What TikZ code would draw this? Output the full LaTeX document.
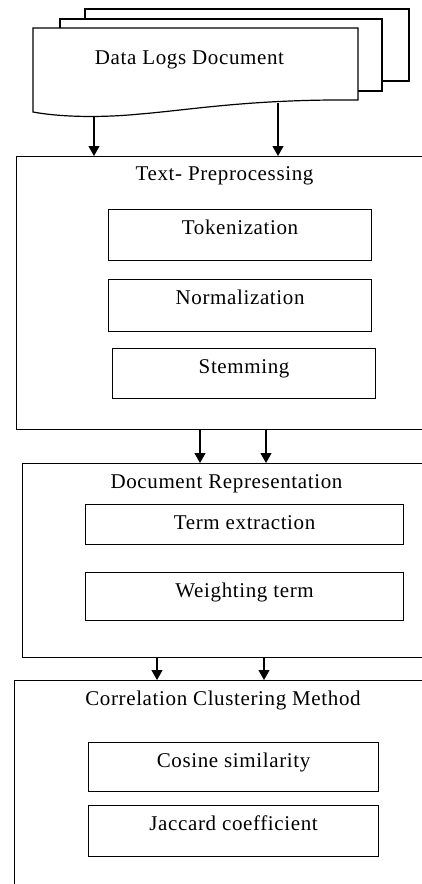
\documentclass[tikz,border=0pt]{standalone}
\usepackage{fontspec}
\setmainfont{Liberation Serif}[LetterSpace=3]
\usepackage{tikz}
\usetikzlibrary{arrows.meta, positioning}

\begin{document}
\begin{tikzpicture}[x=1pt, y=-1pt,
  every node/.style={font=\fontsize{21}{25}\selectfont},
  page/.style={draw, line width=1.2pt, fill=white},
  stage/.style={draw, line width=1.2pt, anchor=north west, inner sep=0pt},
  stepbox/.style={draw, line width=1.2pt, anchor=north west, inner sep=0pt, text height=25pt, text depth=#1},
  heading/.style={anchor=base},
  flow/.style={line width=1.2pt, -{Triangle[width=11pt,length=10pt]}}]
    \clip (0,0) rectangle (422,884);

    % stack of log documents
    \draw[page] (85,9) rectangle (409,81);
    \draw[page] (60,19) rectangle (382,91);
    \draw[page] (33,28) -- (358,28) -- (358,100) .. controls (250,99) and (190,110) .. (140,114) .. controls (100,118) and (60,117) .. (33,112) -- cycle;
    \node[heading] (doc) at (189.5,64) {Data Logs Document};
    \coordinate (docA) at (94,117);
    \coordinate (docB) at (278,103);

    % stages
    \node[stage, minimum width=440pt, minimum height=273pt] (prep) at (16,156) {};
    \node[stage, minimum width=440pt, minimum height=194pt] (rep) at (22,463) {};
    \node[stage, minimum width=440pt, minimum height=240pt] (clus) at (14,680) {};

    \node[heading] (preptitle) at (224.5,180.7) {Text- Preprocessing};
    \node[heading] (reptitle) at (226.5,488) {Document Representation};
    \node[heading] (clustitle) at (223,705) {Correlation Clustering Method};

    \node[stepbox=26pt, minimum width=263pt] (tok) at (108,209) {Tokenization};
    \node[stepbox=27pt, minimum width=263pt] (norm) at (108,279) {Normalization};
    \node[stepbox=25pt, minimum width=263pt] (stem) at (112,348) {Stemming};
    \node[stepbox=15pt, minimum width=318pt] (term) at (85,504) {Term extraction};
    \node[stepbox=23pt, minimum width=318pt] (weight) at (85,572) {Weighting term};
    \node[stepbox=24pt, minimum width=290pt] (cos) at (88,742) {Cosine similarity};
    \node[stepbox=26pt, minimum width=290pt] (jac) at (88,805) {Jaccard coefficient};

    % flow between stages
    \draw[flow] (docA) -- (docA |- prep.north);
    \draw[flow] (docB) -- (docB |- prep.north);
    \draw[flow] (prep.south -| 200,0) -- (rep.north -| 200,0);
    \draw[flow] (prep.south -| 266,0) -- (rep.north -| 266,0);
    \draw[flow] (rep.south -| 157,0) -- (clus.north -| 157,0);
    \draw[flow] (rep.south -| 264,0) -- (clus.north -| 264,0);
\end{tikzpicture}
\end{document}
